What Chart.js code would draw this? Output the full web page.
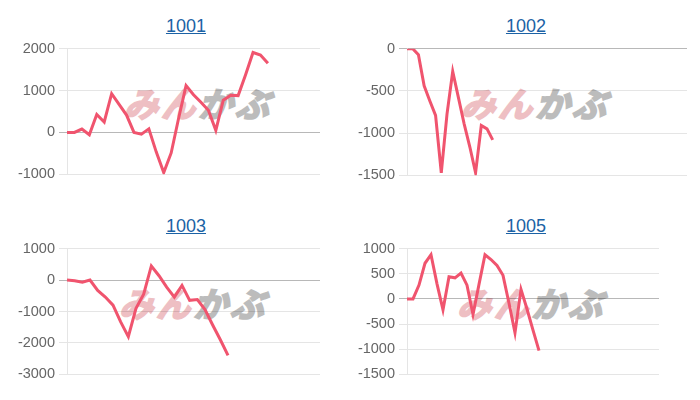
<!DOCTYPE html>
<html>
<head>
<meta charset="utf-8">
<script src="https://cdn.jsdelivr.net/npm/chart.js@4.4.1/dist/chart.umd.min.js"></script>
<style>
  html, body { margin: 0; padding: 0; background: #fff; }
  body { width: 700px; height: 400px; position: relative; overflow: hidden; font-family: "Liberation Sans", Arial, sans-serif; }
  .title { position: absolute; width: 120px; text-align: center; font-size: 18px; line-height: 18px; }
  .title a { color: #1b62a5; text-decoration: underline; }
  .wm { position: absolute; font-family: "Noto Sans CJK JP", sans-serif; font-weight: 700; font-size: 34px; line-height: 34px; letter-spacing: 3px; transform: skewX(-16deg); white-space: nowrap; z-index: 0; }
  .wm .a { color: #eebfc3; -webkit-text-stroke: 2px #eebfc3; }
  .wm .b { color: #bcbcbc; -webkit-text-stroke: 2px #bcbcbc; }
  canvas { position: absolute; z-index: 1; }
</style>
</head>
<body>
<script>
// ---- data ----
const chartNames = ["1001", "1002", "1003", "1005"];
const labelCounts = [35, 50, 34, 43];
const values1001 = [0, 0, 80, -55, 430, 250, 925, 670, 415, 0, -40, 85, -470, -960, -490, 340, 1120, 900, 720, 530, 50, 770, 890, 880, 1380, 1910, 1850, 1650];
const values1002 = [0, 0, -70, -440, -620, -790, -1470, -775, -270, -580, -890, -1165, -1470, -910, -950, -1080];
const values1003 = [0, -20, -70, 0, -330, -540, -800, -1330, -1800, -900, -450, 450, 140, -225, -540, -170, -645, -620, -940, -1430, -1900, -2400];
const values1005 = [0, 0, 275, 710, 880, 300, -215, 440, 420, 515, 275, -310, 290, 880, 785, 665, 470, -85, -675, 190, -200, -620, -1030];
const yMins = [-1000, -1500, -3000, -1500];
const yMaxs = [2000, 0, 1000, 1000];
const ySteps = [1000, 500, 1000, 500];
const seriesValues = [values1001, values1002, values1003, values1005];

// ---- layout (plot areas in page pixels) ----
const plotBoxes = [
  { left: 66.7, top: 47.7, right: 319.3, bottom: 175, titleX: 186, titleTop: 16.5, wmX: 128 },
  { left: 407.3, top: 47.5, right: 687, bottom: 175, titleX: 526, titleTop: 16.5, wmX: 465 },
  { left: 66.7, top: 247.7, right: 319.3, bottom: 375, titleX: 186, titleTop: 217, wmX: 123 },
  { left: 407.3, top: 247.7, right: 659.3, bottom: 375, titleX: 526, titleTop: 217, wmX: 461 }
];
const AXIS_W = 70, PAD_T = 12, PAD_B = 12, PAD_R = 4;

chartNames.forEach((name, i) => {
  const box = plotBoxes[i];
  const t = document.createElement('div');
  t.className = 'title';
  t.style.left = (box.titleX - 60) + 'px';
  t.style.top = box.titleTop + 'px';
  t.innerHTML = '<a href="#">' + name + '</a>';
  document.body.appendChild(t);

  const w = document.createElement('div');
  w.className = 'wm';
  w.style.left = box.wmX + 'px';
  w.style.top = (box.top + 38) + 'px';
  w.innerHTML = '<span class="a">みん</span><span class="b">かぶ</span>';
  document.body.appendChild(w);

  const c = document.createElement('canvas');
  const cw = Math.round(box.right - box.left + AXIS_W + PAD_R);
  const ch = Math.round(box.bottom - box.top + PAD_T + PAD_B);
  c.width = cw; c.height = ch;
  c.style.width = cw + 'px'; c.style.height = ch + 'px';
  c.style.left = (box.left - AXIS_W) + 'px';
  c.style.top = (box.top - PAD_T) + 'px';
  document.body.appendChild(c);

  const labels = Array.from({ length: labelCounts[i] }, (_, k) => String(k + 1));
  new Chart(c, {
    type: 'line',
    data: {
      labels: labels,
      datasets: [{
        label: name,
        data: seriesValues[i],
        borderColor: 'rgb(240, 84, 110)',
        backgroundColor: 'rgb(240, 84, 110)',
        borderWidth: 3,
        pointRadius: 0,
        pointHoverRadius: 0,
        tension: 0,
        fill: false
      }]
    },
    options: {
      responsive: false,
      animation: false,
      devicePixelRatio: 1,
      layout: { padding: { top: PAD_T, bottom: PAD_B, left: 0, right: PAD_R } },
      plugins: { legend: { display: false }, tooltip: { enabled: false }, title: { display: false } },
      scales: {
        x: { display: false },
        y: {
          min: yMins[i],
          max: yMaxs[i],
          afterFit: (s) => { s.width = AXIS_W; },
          ticks: {
            stepSize: ySteps[i],
            color: '#666',
            padding: 4,
            callback: (v) => String(v),
            font: { family: '"Liberation Sans", Arial, sans-serif', size: 14.5 }
          },
          grid: {
            color: (ctx) => (ctx.tick && ctx.tick.value === 0) ? 'rgba(0,0,0,0.28)' : 'rgba(0,0,0,0.1)',
            tickLength: 8
          },
          border: { color: 'rgba(0,0,0,0.1)' }
        }
      }
    }
  });
});
</script>
</body>
</html>
